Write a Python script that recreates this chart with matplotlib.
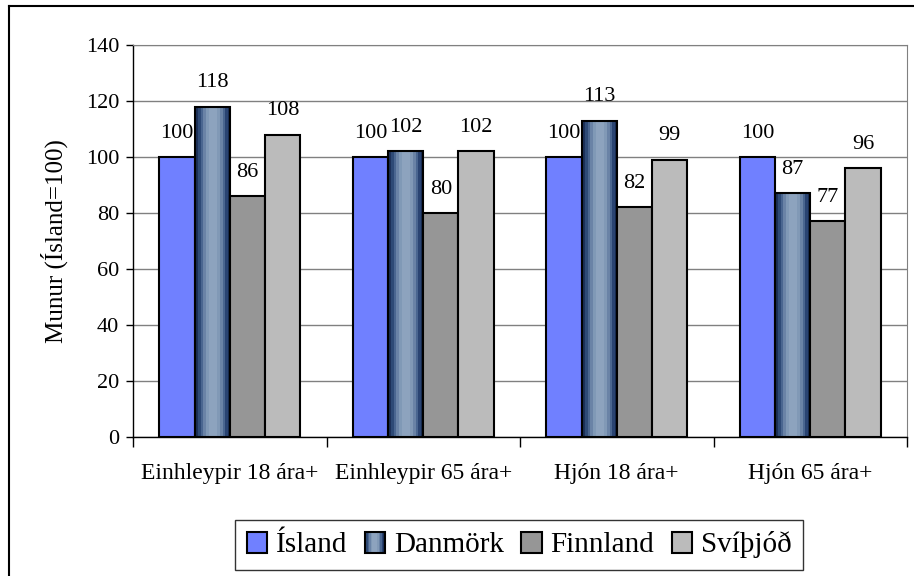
import numpy as np
import matplotlib
matplotlib.use("Agg")
import matplotlib.pyplot as plt
from matplotlib.patches import Rectangle
from matplotlib.lines import Line2D
from matplotlib.legend_handler import HandlerBase

categories = ["Einhleypir 18 ára+", "Einhleypir 65 ára+", "Hjón 18 ára+", "Hjón 65 ára+"]
series_names = ["Ísland", "Danmörk", "Finnland", "Svíþjóð"]
island = [100, 100, 100, 100]
danmork = [118, 102, 113, 87]
finnland = [86, 80, 82, 77]
svithjod = [108, 102, 99, 96]

plt.rcParams['font.family'] = ['Liberation Serif', 'DejaVu Serif']

colors = ["#7080FF", None, "#969696", "#BBBBBB"]
# banded "cylinder" fill used for Danmörk
stripes = ["#1C3058", "#2E4A76", "#4A6690", "#6A83A6", "#8099B6", "#8DA3BE",
           "#8DA3BE", "#8DA3BE", "#8199B6", "#6A83A6", "#4A6690", "#2A4472", "#1A2D55"]


class StripeHandler(HandlerBase):
    def create_artists(self, legend, orig_handle, xdescent, ydescent, width, height, fontsize, trans):
        n = len(stripes)
        arts = []
        for i, c in enumerate(stripes):
            arts.append(Rectangle((-xdescent + i * width / n, -ydescent), width / n, height,
                                  facecolor=c, edgecolor='none', transform=trans))
        arts.append(Rectangle((-xdescent, -ydescent), width, height, fill=False,
                              edgecolor='black', lw=1.5, transform=trans))
        return arts


fig = plt.figure(figsize=(9.14, 5.76), dpi=100)
ax = fig.add_axes([133 / 914, 1 - 437 / 576, (907 - 133) / 914, (437 - 45) / 576])

x = np.arange(len(categories))
w = 1 / 5.5
data = [island, danmork, finnland, svithjod]
handles = []
for i, vals in enumerate(data):
    pos = x + (i - 1.5) * w
    if colors[i] is None:
        bars = ax.bar(pos, vals, w, facecolor='none', edgecolor='black', lw=1.5, zorder=3)
        img = np.array([[matplotlib.colors.to_rgb(c) for c in stripes]])
        for b in bars:
            im = ax.imshow(img, extent=(b.get_x(), b.get_x() + b.get_width(), 0, b.get_height()),
                           aspect='auto', interpolation='nearest', zorder=2)
            im.set_clip_path(b)
    else:
        bars = ax.bar(pos, vals, w, color=colors[i], edgecolor='black', lw=1.5, zorder=3)
    handles.append(bars)
    for p, v in zip(pos, vals):
        ax.annotate(str(v), (p, v), xytext=(0, 14), textcoords='offset points',
                    ha='center', va='baseline', fontsize=16)

ax.set_xlim(-0.5, 3.5)
ax.set_ylim(0, 140)
ax.set_yticks(range(0, 141, 20))
ax.yaxis.grid(True, color='#808080', lw=1, zorder=0)
ax.set_axisbelow(True)
ax.set_xticks(x)
ax.set_xticklabels(categories)
ax.set_xticks(np.arange(-0.5, 3.6, 1), minor=True)
ax.tick_params(axis='x', which='major', length=0, pad=19, labelsize=17)
ax.tick_params(axis='x', which='minor', length=7, width=1, direction='out')
ax.tick_params(axis='y', length=5, width=1, direction='out', labelsize=16, pad=5)
ax.set_ylabel("Munur (Ísland=100)", fontsize=18, labelpad=13)
for s in ['top', 'right']:
    ax.spines[s].set_color('#808080')
for s in ['left', 'bottom']:
    ax.spines[s].set_color('black')
    ax.spines[s].set_linewidth(1)

leg = fig.legend(handles, series_names, loc='center', bbox_to_anchor=(519 / 914, 1 - 545 / 576),
                 ncol=4, prop={'family': 'Liberation Serif', 'size': 21}, frameon=True,
                 fancybox=False, edgecolor='black',
                 handlelength=0.7, handleheight=0.7, handletextpad=0.3, columnspacing=0.6,
                 borderpad=0.4, handler_map={handles[1]: StripeHandler()})
leg.get_frame().set_linewidth(1)

# outer chart border
fig.add_artist(Line2D([9 / 914, 9 / 914], [0, 1 - 6 / 576], color='black', lw=1.5))
fig.add_artist(Line2D([9 / 914, 1], [1 - 6 / 576, 1 - 6 / 576], color='black', lw=1.5))

fig.savefig("out.png", dpi=100)
